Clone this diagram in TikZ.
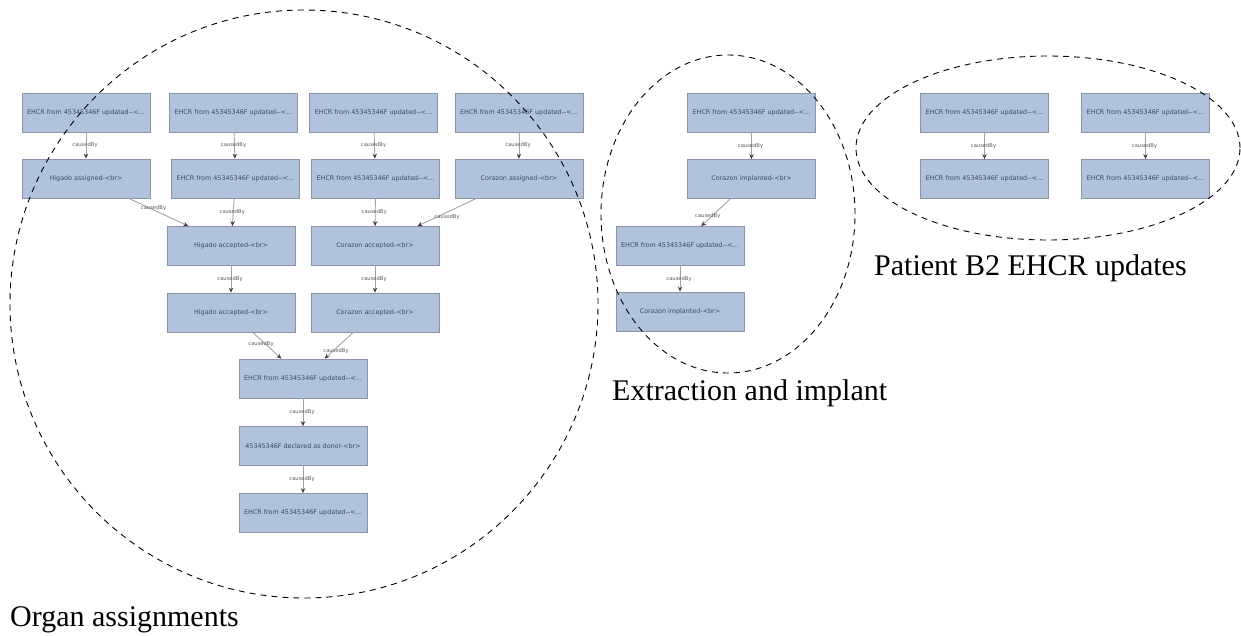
\documentclass[tikz,border=0pt]{standalone}
\usepackage{fontspec}
\setmainfont{Liberation Serif}
\newfontfamily\boxfont{DejaVu Sans}
\usetikzlibrary{arrows.meta}
\definecolor{boxfill}{HTML}{B0C2DC}
\definecolor{boxline}{HTML}{8A94A6}
\definecolor{boxtext}{HTML}{3E4A62}
\definecolor{edgegray}{HTML}{A4A4A4}
\definecolor{tipgray}{HTML}{404040}
\newcommand{\ehcr}{EHCR from 45345346F updated-{}-<...}
\begin{document}
\begin{tikzpicture}[x=1pt,y=-1pt,
  event/.style={draw=boxline, fill=boxfill, line width=0.8pt,
    minimum width=128pt, minimum height=39pt, inner sep=0pt,
    font=\boxfont\fontsize{6.4}{7}\selectfont, text=boxtext},
  cause/.style={draw=edgegray, line width=0.9pt,
    -{Stealth[length=5pt,width=4.5pt,color=tipgray]}},
  causelbl/.style={font=\boxfont\fontsize{5.2}{6}\selectfont,
    text=black!65, inner sep=0.5pt},
  group/.style={draw=black, line width=0.9pt, dash pattern=on 6pt off 5pt},
  grouplbl/.style={font=\fontsize{30}{36}\selectfont, anchor=base west,
    inner sep=0pt}
]
\useasboundingbox (0,0) rectangle (1241,635);

% --- organ assignment events ---
\node[event] (a1) at (86,112.5)  {\ehcr};
\node[event] (a2) at (86,178.5)  {Higado assigned-<br>};
\node[event] (b1) at (233.5,112.5) {\ehcr};
\node[event] (b2) at (235.5,178.5) {\ehcr};
\node[event] (c1) at (373.5,112.5) {\ehcr};
\node[event] (c2) at (375.5,178.5) {\ehcr};
\node[event] (d1) at (519,112.5) {\ehcr};
\node[event] (d2) at (519,178.5) {Corazon assigned-<br>};
\node[event] (h3) at (231,246)   {Higado accepted-<br>};
\node[event] (h4) at (231,312.5) {Higado accepted-<br>};
\node[event] (k3) at (375,246)   {Corazon accepted-<br>};
\node[event] (k4) at (375,312.5) {Corazon accepted-<br>};
\node[event] (e5) at (303,378.5) {\ehcr};
\node[event] (e6) at (303,446)   {45345346F declared as donor-<br>};
\node[event] (e7) at (303,513)   {\ehcr};

% --- extraction and implant events ---
\node[event] (m1) at (751.5,112.5) {\ehcr};
\node[event] (m2) at (751.5,179)   {Corazon implanted-<br>};
\node[event] (m3) at (680,246)     {\ehcr};
\node[event] (m4) at (680,311.5)   {Corazon implanted-<br>};

% --- patient B2 record updates ---
\node[event] (p1) at (984.5,112.5)  {\ehcr};
\node[event] (p2) at (984.5,179)    {\ehcr};
\node[event] (q1) at (1145.5,112.5) {\ehcr};
\node[event] (q2) at (1145.5,179)   {\ehcr};

% --- causal links ---
\foreach \s/\t in {a1/a2,b1/b2,c1/c2,d1/d2,b2/h3,c2/k3,h3/h4,k3/k4,
                   e5/e6,e6/e7,m1/m2,m3/m4,p1/p2,q1/q2}
  \draw[cause] (\s) -- node[causelbl, xshift=-1pt] {causedBy} (\t);
\draw[cause] (a2) -- node[causelbl, xshift=-5pt, yshift=4pt] {causedBy} (h3);
\draw[cause] (d2) -- node[causelbl, yshift=-5pt] {causedBy} (k3);
\draw[cause] (h4) -- node[causelbl, xshift=-6pt, yshift=1pt] {causedBy} (e5);
\draw[cause] (k4) -- node[causelbl, xshift=-3pt, yshift=-6pt] {causedBy} (e5);
\draw[cause] (m2) -- node[causelbl, xshift=-8pt, yshift=-4pt] {causedBy} (m3);

% --- dashed groupings ---
\draw[group] (304,304) ellipse [x radius=294pt, y radius=294pt];
\draw[group] (728,214) ellipse [x radius=127pt, y radius=159pt];
\draw[group] (1048,148) ellipse [x radius=192pt, y radius=92pt];

\node[grouplbl] (lblorgan) at (10,626) {Organ assignments};
\node[grouplbl] (lblimplant) at (612,400) {Extraction and implant};
\node[grouplbl] (lblpatient) at (874,275) {Patient B2 EHCR updates};
\end{tikzpicture}
\end{document}
